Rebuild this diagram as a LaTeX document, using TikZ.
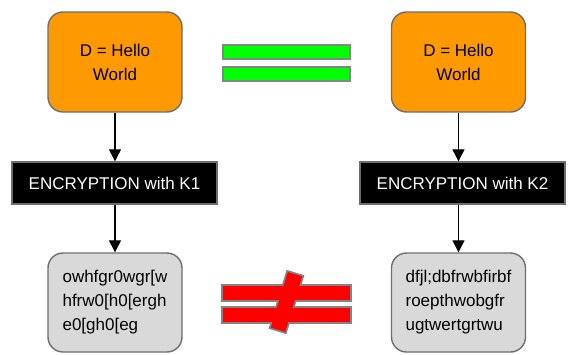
\documentclass[tikz,border=0pt]{standalone}
\usepackage{fontspec}
\setmainfont{Liberation Sans}
\usetikzlibrary{arrows.meta}
\definecolor{boxorange}{HTML}{FF9900}
\definecolor{boxgray}{HTML}{D9D9D9}
\definecolor{edgegray}{HTML}{6E6E6E}
\definecolor{barred}{HTML}{FF0000}
\definecolor{bargreen}{HTML}{00FF00}
\begin{document}
\begin{tikzpicture}[x=1pt,y=-1pt,
  plainbox/.style={draw=edgegray, line width=1.4pt, rounded corners=15pt,
    minimum width=134pt, minimum height=100pt, inner sep=0pt,
    font=\fontsize{17}{24}\selectfont},
  databox/.style={plainbox, fill=boxorange, align=center},
  cipherbox/.style={plainbox, fill=boxgray, minimum height=99pt, align=left},
  encbox/.style={draw=edgegray, line width=1.4pt, fill=black, text=white,
    minimum width=205pt, minimum height=42pt, inner sep=0pt,
    font=\fontsize{17}{20}\selectfont},
  arr/.style={line width=1.3pt, -{Triangle[length=12pt,width=12pt]}},
  barbox/.style={draw=edgegray!85, line width=2.2pt},
  signedge/.style={draw=edgegray!85, line width=3.6pt},
]
\useasboundingbox (0,0) rectangle (571,354);

\node[databox] (d1) at (115,62) {D = Hello\\World};
\node[databox] (d2) at (458.5,62) {D = Hello\\World};

\node[encbox] (e1) at (114.5,183) {ENCRYPTION with K1};
\node[encbox] (e2) at (462.5,183) {ENCRYPTION with K2};

\node[cipherbox] (c1) at (115,302.5) {owhfgr0wgr[w\\hfrw0[h0[ergh\\e0[gh0[eg};
\node[cipherbox] (c2) at (458.5,302.5) {dfjl;dbfrwbfirbf\\roepthwobgfr\\ugtwertgrtwu};

\draw[arr] (d1.south) -- (d1.south |- e1.north);
\draw[arr] (d2.south) -- (d2.south |- e2.north);
\draw[arr] (e1.south -| d1.south) -- (c1.north);
\draw[arr] (e2.south -| d2.south) -- (c2.north);

% equal sign
\draw[barbox, fill=bargreen] (223,45) rectangle (350,59);
\draw[barbox, fill=bargreen] (223,67) rectangle (350,81);

% not-equal sign: outlines first, then fills, so the parts merge
\path[signedge] (223,286) rectangle (350,300);
\path[signedge] (223,308) rectangle (350,322);
\begin{scope}[shift={(286.5,302)}, rotate=73]
  \path[signedge] (-29,-7.5) rectangle (29,7.5);
\end{scope}
\fill[barred] (223,286) rectangle (350,300);
\fill[barred] (223,308) rectangle (350,322);
\begin{scope}[shift={(286.5,302)}, rotate=73]
  \fill[barred] (-29,-7.5) rectangle (29,7.5);
\end{scope}
\end{tikzpicture}
\end{document}
